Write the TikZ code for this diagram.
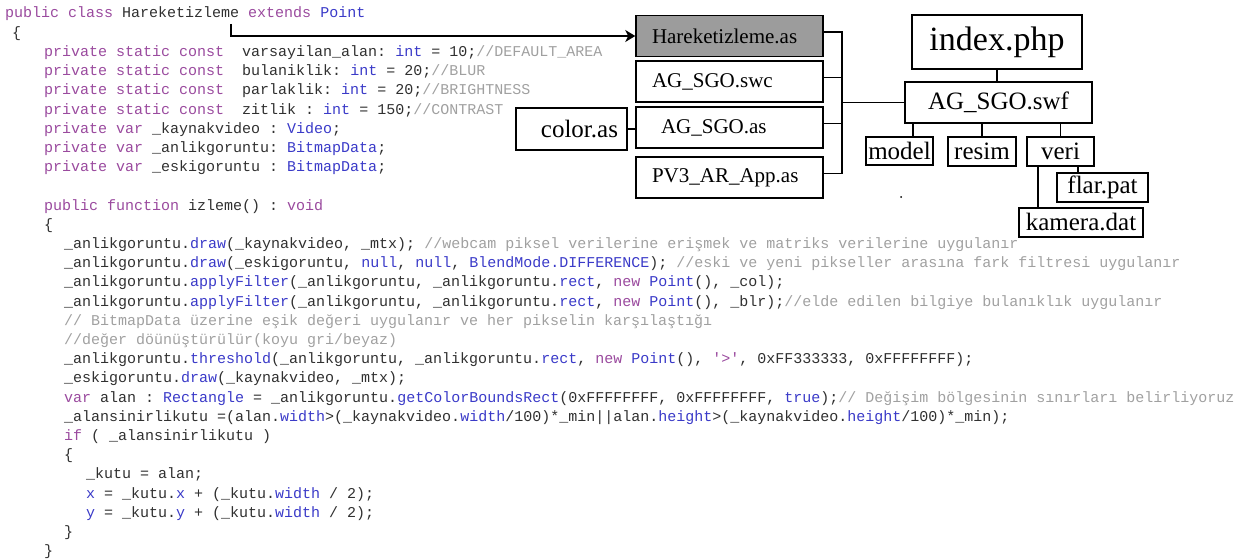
\documentclass[tikz,border=0pt]{standalone}
\usepackage{fontspec}
\setmainfont{Liberation Serif}
\setmonofont{Liberation Mono}
\usetikzlibrary{arrows.meta,calc}
\definecolor{kwc}{HTML}{9A4A9E}
\definecolor{tyc}{HTML}{3A3AC8}
\definecolor{cmc}{HTML}{A0A0A0}
\definecolor{txc}{HTML}{303030}
\definecolor{boxgray}{HTML}{9C9C9C}
\newcommand\kwd[1]{\textcolor{kwc}{#1}}
\newcommand\typ[1]{\textcolor{tyc}{#1}}
\newcommand\cmt[1]{\textcolor{cmc}{#1}}
\tikzset{
  code/.style={anchor=base west, inner sep=0pt, text=txc, font=\ttfamily\fontsize{15}{18}\selectfont\frenchspacing},
  fbox/.style={draw=black, line width=1.5pt, inner sep=0pt, text=black},
  leftbox/.style={fbox, minimum height=41, text width=155, inner xsep=16, align=left, font=\fontsize{21}{24}\selectfont},
  smallbox/.style={fbox, font=\fontsize{25}{28}\selectfont},
  conn/.style={draw=black, line width=1.4pt},
  arr/.style={conn, -{Stealth[length=10pt, width=12pt, inset=3pt]}}
}
\begin{document}
\begin{tikzpicture}[x=1pt,y=-1pt]
\useasboundingbox (0,0) rectangle (1236,559);
% ---- code ----
\node[code] (l1) at (5,18) {\kwd{public class} Hareketizleme \kwd{extends} \typ{Point}};
\node[code] (l2) at (12,37.2) {\{};
\node[code] (l3) at (44,56.4) {\kwd{private static const}~~varsayilan\_alan: \typ{int} = 10;\cmt{//DEFAULT\_AREA}};
\node[code] (l4) at (44,75.6) {\kwd{private static const}~~bulaniklik: \typ{int} = 20;\cmt{//BLUR}};
\node[code] (l5) at (44,94.8) {\kwd{private static const}~~parlaklik: \typ{int} = 20;\cmt{//BRIGHTNESS}};
\node[code] (l6) at (44,114) {\kwd{private static const}~~zitlik : \typ{int} = 150;\cmt{//CONTRAST}};
\node[code] (l7) at (44,133.2) {\kwd{private var} \_kaynakvideo : \typ{Video};};
\node[code] (l8) at (44,152.4) {\kwd{private var} \_anlikgoruntu: \typ{BitmapData};};
\node[code] (l9) at (44,171.6) {\kwd{private var} \_eskigoruntu : \typ{BitmapData};};
\node[code] (l11) at (44,210) {\kwd{public function} izleme() : \kwd{void}};
\node[code] (l12) at (44,229.2) {\{};
\node[code] (l13) at (64,248.4) {\_anlikgoruntu.\typ{draw}(\_kaynakvideo, \_mtx); \cmt{//webcam piksel verilerine erişmek ve matriks verilerine uygulanır}};
\node[code] (l14) at (64,267.6) {\_anlikgoruntu.\typ{draw}(\_eskigoruntu, \typ{null}, \typ{null}, \typ{BlendMode.DIFFERENCE}); \cmt{//eski ve yeni pikseller arasına fark filtresi uygulanır}};
\node[code] (l15) at (64,286.8) {\_anlikgoruntu.\typ{applyFilter}(\_anlikgoruntu, \_anlikgoruntu.\typ{rect}, \kwd{new} \typ{Point}(), \_col);};
\node[code] (l16) at (64,306) {\_anlikgoruntu.\typ{applyFilter}(\_anlikgoruntu, \_anlikgoruntu.\typ{rect}, \kwd{new} \typ{Point}(), \_blr);\cmt{//elde edilen bilgiye bulanıklık uygulanır}};
\node[code] (l17) at (64,325.2) {\cmt{// BitmapData üzerine eşik değeri uygulanır ve her pikselin karşılaştığı}};
\node[code] (l18) at (64,344.4) {\cmt{//değer döünüştürülür(koyu gri/beyaz)}};
\node[code] (l19) at (64,363.6) {\_anlikgoruntu.\typ{threshold}(\_anlikgoruntu, \_anlikgoruntu.\typ{rect}, \kwd{new} \typ{Point}(), \kwd{\char39>\char39}, 0xFF333333, 0xFFFFFFFF);};
\node[code] (l20) at (64,382.8) {\_eskigoruntu.\typ{draw}(\_kaynakvideo, \_mtx);};
\node[code] (l21) at (64,402) {\kwd{var} alan : \typ{Rectangle} = \_anlikgoruntu.\typ{getColorBoundsRect}(0xFFFFFFFF, 0xFFFFFFFF, \typ{true});\cmt{// Değişim bölgesinin sınırları belirliyoruz}};
\node[code] (l22) at (64,421.2) {\_alansinirlikutu =(alan.\typ{width}>(\_kaynakvideo.\typ{width}/100)*\_min||alan.\typ{height}>(\_kaynakvideo.\typ{height}/100)*\_min);};
\node[code] (l23) at (64,440.4) {\kwd{if} ( \_alansinirlikutu )};
\node[code] (l24) at (64,459.6) {\{};
\node[code] (l25) at (86,478.8) {\_kutu = alan;};
\node[code] (l26) at (86,498) {\typ{x} = \_kutu.\typ{x} + (\_kutu.\typ{width} / 2);};
\node[code] (l27) at (86,517.2) {\typ{y} = \_kutu.\typ{y} + (\_kutu.\typ{width} / 2);};
\node[code] (l28) at (64,536.4) {\}};
\node[code] (l29) at (44,555) {\}};
% ---- file boxes ----
\node[leftbox, fill=boxgray] (hare) at (729.5,36) {Hareketizleme.as};
\node[leftbox] (swc) at (729.5,81.5) {AG\_SGO.swc};
\node[leftbox] (ags) at (729.5,127.5) {\hspace*{9pt}AG\_SGO.as};
\node[leftbox] (pv) at (729.5,177.5) {PV3\_AR\_App.as};
\node[fbox, minimum height=42, text width=93, inner xsep=9, align=right, font=\fontsize{25}{28}\selectfont] (col) at (571.5,129) {color.as};
\node[fbox, minimum width=170, minimum height=54, font=\fontsize{34}{38}\selectfont] (idx) at (997,42) {index.php};
\node[smallbox, minimum width=187, minimum height=41] (swf) at (998.5,102.5) {AG\_SGO.swf};
\node[smallbox, minimum width=67, minimum height=28] (model) at (899.5,151) {model};
\node[smallbox, minimum width=68, minimum height=29] (resim) at (982,151.5) {resim};
\node[smallbox, minimum width=67, minimum height=29] (veri) at (1060.5,151.5) {veri};
\node[smallbox, minimum width=91, minimum height=29] (flar) at (1102.5,187.5) {flar.pat};
\node[smallbox, minimum width=124, minimum height=29] (kam) at (1081,222.5) {kamera.dat};
% ---- connectors ----
\coordinate (cls) at (231,24);
\draw[arr] (cls) |- (hare.west);
\coordinate (s1) at ($(hare.east)+(0,-4)$);
\coordinate (s2) at ($(swc.east)+(0,-4)$);
\coordinate (s3) at ($(ags.east)+(0,-4)$);
\coordinate (s4) at ($(pv.east)+(0,-4)$);
\coordinate (bx) at (842,0);
\draw[conn] (s1) -- (s1 -| bx) -- (s4 -| bx) -- (s4);
\draw[conn] (s2) -- (s2 -| bx);
\draw[conn] (s3) -- (s3 -| bx);
\draw[conn] (bx |- swf.west) -- (swf.west);
\draw[conn] (col.east) -- (col.east -| ags.west);
\draw[conn] (idx.south) -- (idx.south |- swf.north);
\coordinate (mx) at (913,0);
\draw[conn] (mx |- swf.south) -- (mx |- model.north);
\draw[conn] (resim.north |- swf.south) -- (resim.north);
\draw[conn] (veri.north |- swf.south) -- (veri.north);
\coordinate (fx) at (1078,0);
\draw[conn] (fx |- veri.south) -- (fx |- flar.north);
\coordinate (kx) at (1038,0);
\draw[conn] (kx |- veri.south) -- (kx |- kam.north);
\fill (901,197) circle (1);
\end{tikzpicture}
\end{document}
